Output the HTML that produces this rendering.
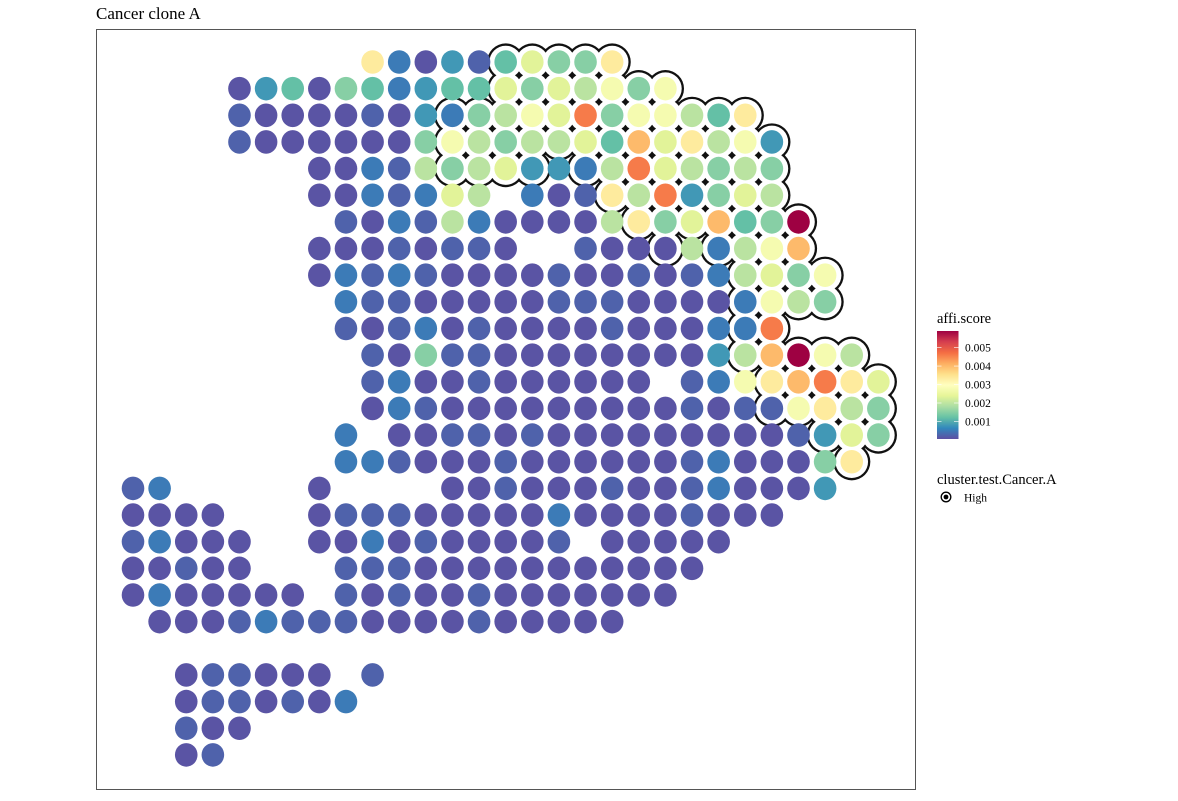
<!DOCTYPE html>
<html><head><meta charset="utf-8"><style>
html,body{margin:0;padding:0;background:#fff;}
svg{display:block;font-family:"Liberation Serif",serif;}
</style></head><body>
<svg id="chart" width="1178" height="801" viewBox="0 0 1178 801" xmlns="http://www.w3.org/2000/svg">
<defs>
<linearGradient id="spec" x1="0" y1="1" x2="0" y2="0">
<stop offset="0" stop-color="#5e4fa2"/><stop offset="0.1" stop-color="#3288bd"/><stop offset="0.2" stop-color="#66c2a5"/><stop offset="0.3" stop-color="#abdda4"/><stop offset="0.4" stop-color="#e6f598"/><stop offset="0.5" stop-color="#ffffbf"/><stop offset="0.6" stop-color="#fee08b"/><stop offset="0.7" stop-color="#fdae61"/><stop offset="0.8" stop-color="#f46d43"/><stop offset="0.9" stop-color="#d53e4f"/><stop offset="1" stop-color="#9e0142"/>
</linearGradient>
</defs>
<text x="96" y="19" font-size="17" fill="#000">Cancer clone A</text>
<rect x="96.5" y="29.5" width="819" height="760" fill="#fff" stroke="#555" stroke-width="1"/>
<g id="outline-black"></g>
<g id="outline-white"></g>
<g id="dots"></g>
<g id="spots"></g>
<g>
<text x="937" y="323" font-size="14.5">affi.score</text>
<rect x="937" y="331" width="21.5" height="108" fill="url(#spec)"/>
<g id="cbticks"></g>
<text x="937" y="484" font-size="14.5">cluster.test.Cancer.A</text>
<circle cx="946" cy="497" r="4.8" fill="#fff" stroke="#000" stroke-width="1.3"/>
<circle cx="946" cy="497" r="2.4" fill="#000"/>
<text x="964" y="501.5" font-size="11.5">High</text>
</g>
</svg>
<script>
// spot codes per row: '.' = no spot, lowercase = spot, uppercase = spot in "High" cluster
const rows = [
".........jcadbEHFFJ",
"....adeafecdeeHFHGIFI",
"....baaaabadCFGIHLFIIGEJ",
"....baaaaaafIGFGGHEKHJGID",
".......aacbgFGHDdCGLHGFGF",
".......aacbchg.cabJGLDFHG",
"........bacbgcaaaagJFHKEFM",
".......aaababba..baaAgCGIK",
".......acbcbaaaabaababcGHFI",
"........cbbaaaaabbbaaaaCIGF",
"........babcabaaaabaaacCL",
".........bafbbaaaaaaaadGKMIG",
".........bcaabaaaaaa.bciJKLJH",
".........acbaaaaaaaaababBIJGF",
"........c.aabbabaaaaaaaaabDHF",
"........ccbaaabaaaaaabcaaafJ",
"bc.....a....aabaaabaabcaaad",
"aaaa...abbbaaaaacaaaabaaa",
"bcaaa..aacabaaaab.aaaaa",
"aabaa...bbbaaaaaaaaaaa",
"acaaaaa.babaabaaaaaaa",
".aaabcbbbaaaabaaaaa",
"",
"..abbaaa.b",
"..abbabac",
"..baa",
"..ab"
];
// affi.score values (x 0.001) for each code letter
const codes = ["a","b","c","d","e","f","g","h","i","j","k","l","m"];
const levels = [0.1,0.25,0.5,0.8,1.2,1.5,1.95,2.35,2.75,3.35,4.0,4.6,5.9];
const ticks = [0.001,0.002,0.003,0.004,0.005];
const tickLabels = ["0.001","0.002","0.003","0.004","0.005"];

const NS="http://www.w3.org/2000/svg";
const X0=133, DX=26.62, Y0=62, DY=26.65;
const xs = c => X0 + c*DX;
const ys = r => Y0 + r*DY;
const lo=0.05, hi=5.9;
const stops=["#5e4fa2","#3288bd","#66c2a5","#abdda4","#e6f598","#ffffbf","#fee08b","#fdae61","#f46d43","#d53e4f","#9e0142"];
function hex(h){return [1,3,5].map(i=>parseInt(h.substr(i,2),16));}
function colorOf(v){
  let t=(v-lo)/(hi-lo); t=Math.max(0,Math.min(1,t));
  const p=t*10, i=Math.min(9,Math.floor(p)), f=p-i;
  const a=hex(stops[i]), b=hex(stops[i+1]);
  return "rgb("+a.map((x,k)=>Math.round(x+(b[k]-x)*f)).join(",")+")";
}
const gB=document.getElementById("outline-black"), gW=document.getElementById("outline-white"),
      gD=document.getElementById("dots"), gS=document.getElementById("spots");
const high={};
rows.forEach((s,r)=>{ for(let c=0;c<s.length;c++){ const ch=s[c]; if(ch!=="." && ch===ch.toUpperCase()) high[r+","+c]=1; } });
Object.keys(high).forEach(k=>{
  const [r,c]=k.split(",").map(Number);
  const b=document.createElementNS(NS,"circle");
  b.setAttribute("cx",xs(c)); b.setAttribute("cy",ys(r)); b.setAttribute("r",18.6); b.setAttribute("fill","#111");
  
  
  gB.appendChild(b);
  const w=document.createElementNS(NS,"circle");
  w.setAttribute("cx",xs(c)); w.setAttribute("cy",ys(r)); w.setAttribute("r",16.3); w.setAttribute("fill","#fff");
  
  
  gW.appendChild(w);
  if(high[r+","+(c+1)] && high[(r+1)+","+c] && high[(r+1)+","+(c+1)]){
    const d=document.createElementNS(NS,"circle");
    d.setAttribute("cx",xs(c)+DX/2); d.setAttribute("cy",ys(r)+DY/2); d.setAttribute("r",2); d.setAttribute("fill","#111");
    
    
    gD.appendChild(d);
  }
});
rows.forEach((s,r)=>{
  for(let c=0;c<s.length;c++){
    const ch=s[c]; if(ch===".") continue;
    const v=levels[codes.indexOf(ch.toLowerCase())];
    const e=document.createElementNS(NS,"ellipse");
    e.setAttribute("cx",xs(c)); e.setAttribute("cy",ys(r)); e.setAttribute("rx",11.3); e.setAttribute("ry",11.8);
    e.setAttribute("fill",colorOf(v));
    
    
    gS.appendChild(e);
  }
});
const cbY = v => 439 - (v*1000-lo)/(hi-lo)*108;
const gT=document.getElementById("cbticks");
ticks.forEach((v,i)=>{
  const y=cbY(v);
  [937,954].forEach(x=>{
    const l=document.createElementNS(NS,"line");
    l.setAttribute("x1",x); l.setAttribute("x2",x+4.5); l.setAttribute("y1",y); l.setAttribute("y2",y);
    l.setAttribute("stroke","#fff"); l.setAttribute("stroke-width","0.8"); l.setAttribute("opacity","0.8");
    
    
    gT.appendChild(l);
  });
  const t=document.createElementNS(NS,"text");
  t.setAttribute("x",965); t.setAttribute("y",y+4); t.setAttribute("font-size","11.5");
  t.textContent=tickLabels[i];
  
  
  gT.appendChild(t);
});
</script>
</body></html>
